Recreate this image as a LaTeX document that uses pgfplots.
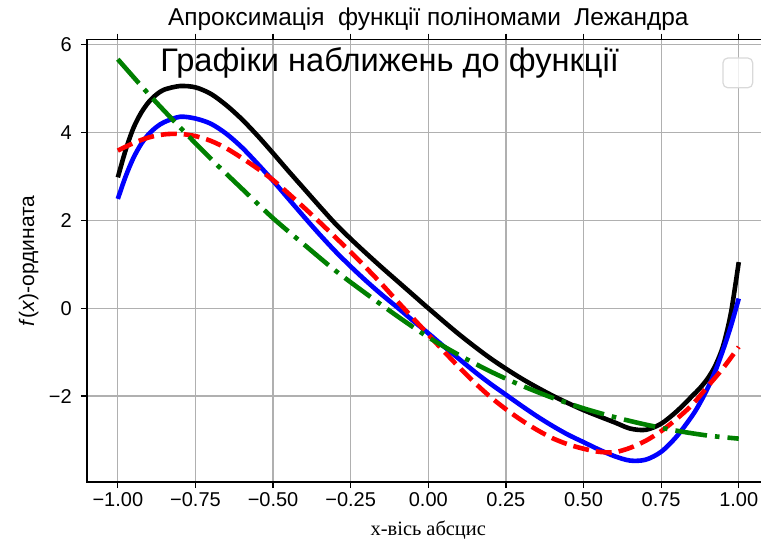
\documentclass[border=0pt]{standalone}
\usepackage{pgfplots}
\pgfplotsset{compat=1.18}
\usepackage{fontspec}
\setmainfont{Liberation Sans}
\newfontfamily\seriffont{Liberation Serif}
\definecolor{mplgreen}{rgb}{0,0.5,0}
\definecolor{gridgray}{HTML}{B0B0B0}
\begin{document}
\begin{tikzpicture}
\begin{axis}[
  scale only axis,
  width=341.5pt, height=221.3pt,
  xmin=-1.1, xmax=1.1, ymin=-3.96, ymax=6.12,
  xtick={-1,-0.75,-0.5,-0.25,0,0.25,0.5,0.75,1},
  xticklabels={−1.00,−0.75,−0.50,−0.25,0.00,0.25,0.50,0.75,1.00},
  ytick={-2,0,2,4,6},
  yticklabels={−2,0,2,4,6},
  tick align=outside,
  major tick length=3pt,
  tick style={black, line width=0.6pt},
  axis line style={line width=0.8pt},
  grid=major,
  major grid style={gridgray, line width=0.6pt},
  tick label style={font=\fontsize{10}{12}\selectfont},
  xticklabel style={yshift=1.5pt},
  yticklabel style={xshift=-1pt},
  every axis title shift=0pt,
  title={Апроксимація\ \ функції поліномами\ \ Лежандра},
  title style={font=\fontsize{12.2}{14}\selectfont, at={(0.5,1)}, anchor=base, yshift=6.8pt},
  xlabel={x-вісь абсцис},
  xlabel style={font=\seriffont\fontsize{10.2}{12}\selectfont, at={(axis description cs:0.5,0)}, anchor=center, yshift=-24pt},
  ylabel={\textit{f}(\textit{x})-ордината},
  ylabel style={font=\fontsize{10.5}{12}\selectfont, at={(axis description cs:0,0.5)}, anchor=center, yshift=29pt},
  clip=false,
]
\addplot[black, line width=2.3pt, smooth, tension=0.5] coordinates {
(-1.0,2.98) (-0.975,3.6) (-0.95,4.1) (-0.925,4.45) (-0.9,4.7) (-0.875,4.87) (-0.85,4.98) (-0.8,5.06) (-0.75,5.03)
(-0.7,4.88) (-0.65,4.62) (-0.6,4.3) (-0.55,3.93) (-0.5,3.53) (-0.45,3.12)
(-0.4,2.72) (-0.35,2.32) (-0.3,1.93) (-0.25,1.58) (-0.2,1.25) (-0.15,0.93)
(-0.1,0.62) (-0.05,0.31) (0.0,0.0) (0.1,-0.6) (0.2,-1.14) (0.3,-1.6)
(0.4,-1.99) (0.5,-2.32) (0.6,-2.6) (0.65,-2.74) (0.7,-2.77) (0.75,-2.63)
(0.8,-2.35) (0.85,-2.0) (0.875,-1.82) (0.9,-1.6) (0.925,-1.3) (0.95,-0.85) (0.975,-0.1) (1.0,1.05)
};
\addplot[blue, line width=2.3pt, smooth, tension=0.5] coordinates {
(-1.0,2.49) (-0.975,3.0) (-0.95,3.42) (-0.925,3.74) (-0.9,3.97) (-0.875,4.13) (-0.85,4.24) (-0.8,4.36) (-0.75,4.32)
(-0.7,4.2) (-0.65,3.97) (-0.6,3.66) (-0.55,3.29) (-0.5,2.9) (-0.45,2.49)
(-0.4,2.08) (-0.35,1.68) (-0.3,1.3) (-0.25,0.95) (-0.2,0.62) (-0.15,0.31)
(-0.1,0.02) (-0.05,-0.28) (0.0,-0.57) (0.05,-0.87) (0.1,-1.16) (0.15,-1.45)
(0.2,-1.72) (0.25,-1.97) (0.3,-2.22) (0.35,-2.46) (0.4,-2.68) (0.45,-2.88)
(0.5,-3.05) (0.55,-3.22) (0.6,-3.37) (0.65,-3.47) (0.7,-3.45) (0.75,-3.27)
(0.8,-2.92) (0.85,-2.45) (0.875,-2.16) (0.9,-1.82) (0.925,-1.42) (0.95,-0.94) (0.975,-0.4) (1.0,0.22)
};
\addplot[red, line width=2.3pt, smooth, tension=0.5, dash pattern=on 8pt off 3.5pt] coordinates {
(-1.0,3.59) (-0.95,3.76) (-0.9,3.89) (-0.85,3.96) (-0.8,3.97) (-0.75,3.92)
(-0.7,3.81) (-0.65,3.64) (-0.6,3.42) (-0.55,3.18) (-0.5,2.92) (-0.45,2.61)
(-0.4,2.29) (-0.35,1.96) (-0.3,1.62) (-0.25,1.28) (-0.2,0.92) (-0.15,0.55)
(-0.1,0.16) (-0.05,-0.22) (0.0,-0.6) (0.05,-0.98) (0.1,-1.35) (0.15,-1.7)
(0.2,-2.02) (0.25,-2.3) (0.3,-2.55) (0.35,-2.77) (0.4,-2.96) (0.45,-3.1)
(0.5,-3.2) (0.55,-3.27) (0.6,-3.28) (0.65,-3.18) (0.7,-3.02) (0.75,-2.8)
(0.8,-2.52) (0.85,-2.2) (0.9,-1.78) (0.95,-1.36) (1.0,-0.88)
};
\addplot[mplgreen, line width=2.3pt, smooth, tension=0.5, dash pattern=on 16pt off 4pt on 2.3pt off 4pt] coordinates {
(-1.0,5.67) (-0.9,4.87) (-0.8,4.12) (-0.7,3.4) (-0.6,2.72) (-0.5,2.05)
(-0.4,1.45) (-0.3,0.86) (-0.2,0.33) (-0.1,-0.18) (0.0,-0.66) (0.1,-1.07)
(0.2,-1.44) (0.3,-1.76) (0.4,-2.04) (0.5,-2.28) (0.6,-2.48) (0.7,-2.65)
(0.8,-2.79) (0.9,-2.9) (1.0,-2.97)
};
\node[anchor=base west, inner sep=0pt, font=\fontsize{16.3}{18}\selectfont] at (axis cs:-0.864,5.40) {Графіки наближень до функції};
\draw[rounded corners=2.5pt, draw=black!15, fill=white, fill opacity=0.8, line width=0.6pt] (axis cs:0.949,5.02) rectangle (axis cs:1.045,5.70);
\coordinate (SW) at (rel axis cs:0,0);
\coordinate (NE) at (rel axis cs:1,1);
\end{axis}
\pgfresetboundingbox
\path ([xshift=-43.4pt,yshift=-30pt]SW) rectangle ([xshift=-4.4pt,yshift=19.75pt]NE);
\end{tikzpicture}
\end{document}
